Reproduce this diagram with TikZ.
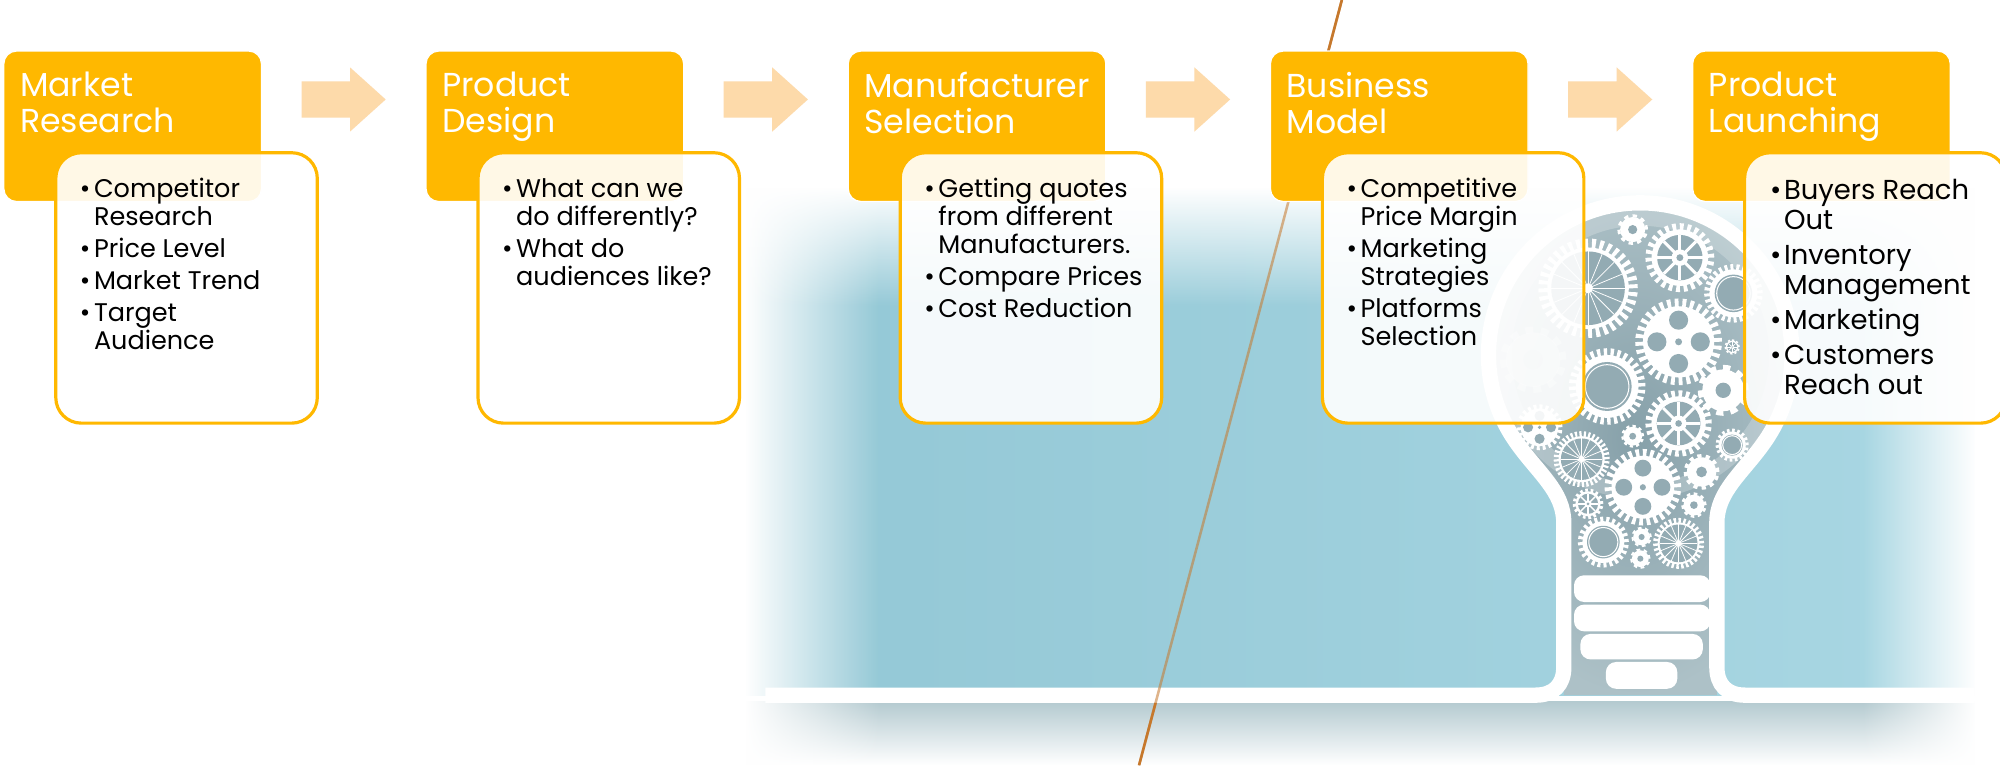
\documentclass[tikz,border=0pt]{standalone}
\usepackage{fontspec}
\setmainfont{Poppins}
\usetikzlibrary{positioning,calc,shapes.arrows,fadings}

\definecolor{stageorange}{HTML}{FFB800}
\definecolor{arrowpeach}{HTML}{FDDAAA}
\definecolor{skyblue}{HTML}{92C7D5}
\definecolor{skybluelight}{HTML}{A9D7E3}
\definecolor{shadowblue}{HTML}{B4CAD0}
\definecolor{bulbgrey}{HTML}{86A0A9}
\definecolor{bulbgreylight}{HTML}{ADC1C7}
\definecolor{coggrey}{HTML}{93ABB3}
\definecolor{slashbrown}{HTML}{C6782C}

\tikzfading[name=fadetoright, left color=transparent!0, right color=transparent!100]
\tikzfading[name=fadetoleft, left color=transparent!100, right color=transparent!0]
\tikzfading[name=fadedown, top color=transparent!0, bottom color=transparent!100]

\newcommand{\bul}{\makebox[11pt][l]{\textbullet}}
\newcommand{\cont}{\hspace*{11pt}}

\tikzset{
  stagehead/.style={fill=stageorange, draw=white, line width=1pt, rounded corners=10pt,
    minimum width=202pt, minimum height=118pt, inner sep=0pt},
  stagebody/.style={fill=white, fill opacity=0.9, draw=stageorange, line width=2.5pt,
    rounded corners=20pt, minimum width=205pt, minimum height=212pt, inner sep=0pt},
  headtext/.style={text=white, font=\fontsize{26}{28}\selectfont, align=left,
    inner sep=0pt, anchor=north west},
  bodytext/.style={text=black, font=\fontsize{20}{22}\selectfont, align=left,
    inner sep=0pt, anchor=north west},
  stagearrow/.style={single arrow, fill=arrowpeach, minimum height=66pt, inner xsep=0pt,
    inner ysep=14pt, single arrow head extend=11pt, single arrow tip angle=84},
  pics/cog/.style args={#1/#2/#3}{code={
    \pgfmathsetmacro\cogt{pi*0.9*#1/#2}
    \draw[white, line width=0.2*#1, dash pattern=on \cogt pt off \cogt pt] (0,0) circle (0.9*#1);
    \fill[white] (0,0) circle (0.82*#1);
    \ifcase#3
      \fill[coggrey] (0,0) circle (0.3*#1);
    \or
      \fill[coggrey] (0,0) circle (0.66*#1);
      \foreach \a in {0,45,...,315} \draw[white, line width=0.09*#1] (0,0) -- (\a:0.66*#1);
      \fill[white] (0,0) circle (0.24*#1);
      \fill[coggrey] (0,0) circle (0.1*#1);
    \or
      \fill[coggrey] (0,0) circle (0.64*#1);
      \draw[white, line width=0.8pt] (0,0) circle (0.57*#1);
    \or
      \foreach \a in {0,90,180,270} \fill[coggrey] (\a:0.5*#1) circle (0.22*#1);
      \fill[coggrey] (0,0) circle (0.08*#1);
    \or
      \fill[coggrey] (0,0) circle (0.74*#1);
      \foreach \a in {0,22.5,...,337.5} \draw[white, line width=0.6pt] (0,0) -- (\a:0.74*#1);
      \fill[white] (0,0) circle (0.1*#1);
    \fi
  }},
}

\begin{document}
\begin{tikzpicture}[x=1pt, y=1pt]
\useasboundingbox (0,0) rectangle (1568,600);
\fill[white] (0,0) rectangle (1568,600);

% backdrop behind the bulb
\shade[left color=skyblue, right color=skybluelight] (585,55) rectangle (1548,452);
\shade[top color=shadowblue, bottom color=white] (585,0) rectangle (1548,50);
\fill[white, path fading=fadetoright] (584,0) rectangle (690,453);
\fill[white, path fading=fadetoleft] (1460,0) rectangle (1549,453);
\fill[white, path fading=fadedown] (584,360) rectangle (1549,453);

% bulb inside
\shade[inner color=bulbgrey, outer color=bulbgreylight] (1226,55) -- (1226,190)
  .. controls (1226,215) and (1205.7,229.1) .. (1188.5,253.7)
  arc[start angle=215, end angle=-35, radius=119]
  .. controls (1366.3,229.1) and (1346,215) .. (1346,190) -- (1346,55) -- cycle;
\draw[white, opacity=0.22, line width=12pt] (1286,322) circle (107);

% gears
\pic[opacity=0.35] at (1202,318) {cog=26/12/0};
\foreach \gx/\gy/\gr/\gn/\gk in {1245/374/39/36/4, 1317/398/27/26/1, 1280/420/12/10/0,
    1316/332/34/32/3, 1260/297/30/32/2, 1316/268/26/26/1, 1359/370/23/28/2,
    1240/240/22/36/4, 1288/218/30/30/3, 1358/251/13/18/2, 1334/230/14/12/0,
    1328/204/10/10/0, 1245/205/12/16/1, 1257/175/20/24/2, 1287/179/8/8/0,
    1286/162/8/8/0, 1316/174/20/30/4, 1280/258/9/10/0, 1358/328/6/10/1,
    1207/265/18/22/3, 1351/294/20/10/0}
  \pic at (\gx,\gy) {cog=\gr/\gn/\gk};

% bulb outline and base
\draw[white, line width=12pt] (600,55) -- (1204,55) .. controls (1218,55) and (1226,63) .. (1226,77)
  -- (1226,190) .. controls (1226,215) and (1205.7,229.1) .. (1188.5,253.7)
  arc[start angle=215, end angle=-35, radius=119]
  .. controls (1366.3,229.1) and (1346,215) .. (1346,190) -- (1346,77)
  .. controls (1346,63) and (1354,55) .. (1368,55) -- (1548,55);
\foreach \xl/\xr/\yb/\yt in {1234/1341/128/149, 1234/1341/105/126, 1239/1335/83/103, 1259/1315/60/81}
  \fill[white, rounded corners=8pt] (\xl,\yb) rectangle (\xr,\yt);

% slanted line
\coordinate (slasttop) at (1052,600);
\coordinate (slastbot) at (893,0);
\draw[slashbrown, line width=2pt, opacity=0.55] (slasttop) -- (slastbot);
\begin{scope}
  \clip (0,0) rectangle (1568,49) (0,455) rectangle (1568,600);
  \draw[slashbrown, line width=2pt] (slasttop) -- (slastbot);
\end{scope}

% stage titles
\node[stagehead] (h1) at (104,501) {};
\node[stagehead, right=128pt of h1] (h2) {};
\node[stagehead, right=128pt of h2] (h3) {};
\node[stagehead, right=128pt of h3] (h4) {};
\node[stagehead, right=128pt of h4] (h5) {};

\node[stagearrow] (a1) at ($(h1.east)!0.5!(h2.west)+(-8,21)$) {};
\node[stagearrow] (a2) at ($(h2.east)!0.5!(h3.west)+(-8,21)$) {};
\node[stagearrow] (a3) at ($(h3.east)!0.5!(h4.west)+(-8,21)$) {};
\node[stagearrow] (a4) at ($(h4.east)!0.5!(h5.west)+(-8,21)$) {};

\node[headtext] (t1) at ([shift={(13,-17)}]h1.north west) {Market\\Research};
\node[headtext] (t2) at ([shift={(13,-17)}]h2.north west) {Product\\Design};
\node[headtext] (t3) at ([shift={(13,-17)}]h3.north west) {Manufacturer\\Selection};
\node[headtext] (t4) at ([shift={(13,-17)}]h4.north west) {Business\\Model};
\node[headtext] (t5) at ([shift={(13,-17)}]h5.north west) {Product\\Launching};

% stage details
\foreach \i in {1,...,5}
  \node[stagebody, anchor=north west] (b\i) at ([shift={(40,-79)}]h\i.north west) {};

\node[bodytext] (d1) at ([shift={(20,-21)}]b1.north west)
  {\bul Competitor\\\cont Research\\[3pt]\bul Price Level\\[3pt]\bul Market Trend\\[3pt]\bul Target\\\cont Audience};
\node[bodytext] (d2) at ([shift={(20,-21)}]b2.north west)
  {\bul What can we\\\cont do differently?\\[3pt]\bul What do\\\cont audiences like?};
\node[bodytext] (d3) at ([shift={(20,-21)}]b3.north west)
  {\bul Getting quotes\\\cont from different\\\cont Manufacturers.\\[3pt]\bul Compare Prices\\[3pt]\bul Cost Reduction};
\node[bodytext] (d4) at ([shift={(20,-21)}]b4.north west)
  {\bul Competitive\\\cont Price Margin\\[3pt]\bul Marketing\\\cont Strategies\\[3pt]\bul Platforms\\\cont Selection};
\node[bodytext, font=\fontsize{21.5}{23.5}\selectfont] (d5) at ([shift={(21,-22)}]b5.north west)
  {\bul Buyers Reach\\\cont Out\\[4pt]\bul Inventory\\\cont Management\\[4pt]\bul Marketing\\[4pt]\bul Customers\\\cont Reach out};
\end{tikzpicture}
\end{document}
